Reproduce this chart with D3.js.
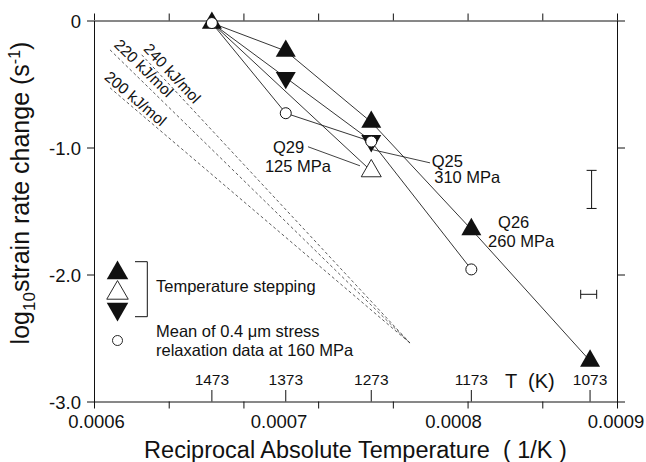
<!DOCTYPE html>
<html><head><meta charset="utf-8">
<script src="https://cdn.jsdelivr.net/npm/d3@7"></script>
<style>
body{margin:0;background:#fff;}
svg{display:block;font-family:"Liberation Sans",Arial,Helvetica,sans-serif;}
text{white-space:pre;fill:#111;}
</style></head><body>
<svg id="chart" width="646" height="462"></svg>
<script>
// ---------------- data ----------------
const temperatureTicks = [1473, 1373, 1273, 1173, 1073];
const q26Temps  = [1473, 1373, 1273, 1173, 1073];
const q26Values = [-0.02, -0.24, -0.80, -1.645, -2.68];
const q25Temps  = [1473, 1373, 1273];
const q25Values = [-0.02, -0.45, -0.948];
const q29Temps  = [1473, 1273];
const q29Values = [-0.02, -1.185];
const relaxTemps  = [1473, 1373, 1273, 1173];
const relaxValues = [-0.02, -0.73, -0.953, -1.96];
const energyLabels = ["200 kJ/mol", "220 kJ/mol", "240 kJ/mol"];
const energyStartX = [0.0006107, 0.0006107, 0.0006319];
const energyStartY = [-0.53, -0.231, -0.27];
const energyEndX = 0.0008115;
const energyEndY = -2.54;
const xTickLabels = ["0.0006", "0.0007", "0.0008", "0.0009"];
const xTickLabelValues = [0.0006, 0.0007, 0.0008, 0.0009];
const yTickValues = [0, -1, -2, -3];
const yTickLabels = ["0", "-1.0", "-2.0", "-3.0"];
const vErrX = 0.000933, vErrY = [-1.18, -1.48];
const hErrX = [0.0009257, 0.0009364], hErrY = -2.156;

// ---------------- scales ----------------
const svg = d3.select("#chart");
const x = d3.scaleLinear().domain([0.0006, 0.00095]).range([94, 617]);
const y = d3.scaleLinear().domain([-3, 0]).range([401.5, 20.5]);
// tick labels are printed at these (non-uniform) spots in the source figure
const xLabelPos = d3.scaleLinear().domain(xTickLabelValues).range([96.5, 279, 453.5, 616]);
const minorTicks = d3.range(0, 8).map(i => 0.0006 + i * 0.00005);
const ink = "#111";

// ---------------- axes ----------------
function styleAxis(g){
  g.selectAll("path,line").attr("stroke", ink).attr("stroke-width", 1);
  g.selectAll("text").remove();
}
svg.append("g").attr("transform", `translate(0,${y(-3)})`)
  .call(d3.axisBottom(x).tickValues(minorTicks).tickSize(7).tickSizeOuter(0)).call(styleAxis);
svg.append("g").attr("transform", `translate(0,${y(0)})`)
  .call(d3.axisTop(x).tickValues(minorTicks).tickSize(7).tickSizeOuter(0)).call(styleAxis);
svg.append("g").attr("transform", `translate(${x(0.0006)},0)`)
  .call(d3.axisLeft(y).tickValues(yTickValues).tickSize(7).tickSizeOuter(0)).call(styleAxis);
svg.append("g").attr("transform", `translate(${x(0.00095)},0)`)
  .call(d3.axisRight(y).tickValues(yTickValues).tickSize(8).tickSizeOuter(0)).call(styleAxis);

// y tick labels
svg.append("g").selectAll("text").data(yTickValues).join("text")
  .attr("x", 81).attr("y", d => y(d) + 7.5)
  .attr("text-anchor", "end").attr("font-size", 18.5)
  .text((d, i) => yTickLabels[i]);
// x tick labels
svg.append("g").selectAll("text").data(xTickLabelValues).join("text")
  .attr("x", d => xLabelPos(d)).attr("y", 428)
  .attr("text-anchor", "middle").attr("font-size", 18.5)
  .text((d, i) => xTickLabels[i]);

// temperature ticks (inside, along bottom axis)
const tg = svg.append("g");
tg.selectAll("line").data(temperatureTicks).join("line")
  .attr("x1", d => x(1 / d)).attr("x2", d => x(1 / d))
  .attr("y1", y(-3) - 11.5).attr("y2", y(-3))
  .attr("stroke", ink).attr("stroke-width", 1);
tg.selectAll("text").data(temperatureTicks).join("text")
  .attr("x", d => x(1 / d)).attr("y", y(-3) - 16.5)
  .attr("text-anchor", "middle").attr("font-size", 15.5)
  .text(d => d);
svg.append("text").attr("x", 505).attr("y", 388).attr("font-size", 20).text("T  (K)");

// axis titles
svg.append("text").attr("x", 355.5).attr("y", 458).attr("text-anchor", "middle")
  .attr("font-size", 23.5).text("Reciprocal Absolute Temperature  ( 1/K )");
const yt = svg.append("text").attr("transform", "translate(29,193) rotate(-90)")
  .attr("text-anchor", "middle").attr("font-size", 25);
yt.append("tspan").text("log");
yt.append("tspan").attr("font-size", 17).attr("dy", 6).text("10");
yt.append("tspan").attr("dy", -6).text("strain rate change (s");
yt.append("tspan").attr("font-size", 16).attr("dy", -9).text("-1");
yt.append("tspan").attr("dy", 9).text(")");

// ---------------- activation-energy dashed lines ----------------
const eg = svg.append("g");
energyLabels.forEach((lab, i) => {
  const x1 = x(energyStartX[i]), y1 = y(energyStartY[i]);
  const x2 = x(energyEndX), y2 = y(energyEndY);
  eg.append("line").attr("x1", x1).attr("y1", y1).attr("x2", x2).attr("y2", y2)
    .attr("stroke", "#333").attr("stroke-width", 0.8).attr("stroke-dasharray", "3,2.5");
  const ang = Math.atan2(y2 - y1, x2 - x1);
  const along = [-11, -0.5, -3][i], perp = [3, 5.2, 4.4][i];
  const tx = x1 + along * Math.cos(ang) + perp * Math.sin(ang);
  const ty = y1 + along * Math.sin(ang) - perp * Math.cos(ang);
  eg.append("text").attr("transform", `translate(${tx},${ty}) rotate(${ang * 180 / Math.PI})`)
    .attr("font-size", 15.5).text(lab);
});

// ---------------- series lines ----------------
const line = d3.line().x(d => x(1 / d[0])).y(d => y(d[1]));
const lg = svg.append("g").attr("fill", "none").attr("stroke", ink).attr("stroke-width", 0.85);
[[q26Temps, q26Values], [q25Temps, q25Values], [q29Temps, q29Values], [relaxTemps, relaxValues]]
  .forEach(([t, v]) => lg.append("path").attr("d", line(t.map((d, i) => [d, v[i]]))));

// annotation leaders
function leader(xa, ya, xb, yb){
  svg.append("line").attr("x1", x(xa)).attr("y1", y(ya)).attr("x2", x(xb)).attr("y2", y(yb))
    .attr("stroke", ink).attr("stroke-width", 0.8);
}
leader(0.0007432, -0.994, 0.000778, -1.144);
leader(0.0008249, -1.121, 0.0007867, -1.018);

// ---------------- markers ----------------
function tri(s, up){
  const h = s * Math.sqrt(3) / 2;
  return up ? `M0,${-2*h/3}L${s/2},${h/3}L${-s/2},${h/3}Z` : `M0,${2*h/3}L${s/2},${-h/3}L${-s/2},${-h/3}Z`;
}
const mg = svg.append("g");
mg.selectAll(".q29").data(q29Temps.slice(1)).join("path")
  .attr("transform", (d, i) => `translate(${x(1/d)},${y(q29Values[i+1])})`)
  .attr("d", tri(20, true)).attr("fill", "#fff").attr("stroke", ink).attr("stroke-width", 0.9);
mg.selectAll(".q26").data(q26Temps).join("path")
  .attr("transform", (d, i) => `translate(${x(1/d)},${y(q26Values[i])})`)
  .attr("d", tri(20, true)).attr("fill", ink);
mg.selectAll(".q25").data(q25Temps.slice(1)).join("path")
  .attr("transform", (d, i) => `translate(${x(1/d)},${y(q25Values[i+1])})`)
  .attr("d", tri(20, false)).attr("fill", ink);
mg.selectAll("circle").data(relaxTemps).join("circle")
  .attr("cx", d => x(1/d)).attr("cy", (d, i) => y(relaxValues[i])).attr("r", 5.5)
  .attr("fill", "#fff").attr("stroke", ink).attr("stroke-width", 1);

// annotation texts
function note(xv, yv, txt){
  svg.append("text").attr("x", x(xv)).attr("y", y(yv)).attr("font-size", 16.5).text(txt);
}
note(0.0007198, -1.042, "Q29");
note(0.0007144, -1.191, "125 MPa");
note(0.000826, -1.150, "Q25");
note(0.0008277, -1.280, "310 MPa");
note(0.0008704, -1.635, "Q26");
note(0.0008637, -1.780, "260 MPa");

// error bars
const eb = svg.append("g").attr("stroke", ink).attr("stroke-width", 1);
eb.append("line").attr("x1", x(vErrX)).attr("x2", x(vErrX)).attr("y1", y(vErrY[0])).attr("y2", y(vErrY[1]));
vErrY.forEach(v => eb.append("line").attr("x1", x(vErrX) - 5).attr("x2", x(vErrX) + 5).attr("y1", y(v)).attr("y2", y(v)));
eb.append("line").attr("x1", x(hErrX[0])).attr("x2", x(hErrX[1])).attr("y1", y(hErrY)).attr("y2", y(hErrY));
hErrX.forEach(v => eb.append("line").attr("x1", x(v)).attr("x2", x(v)).attr("y1", y(hErrY) - 4.5).attr("y2", y(hErrY) + 4.5));

// ---------------- legend ----------------
const leg = svg.append("g");
leg.append("path").attr("transform", "translate(117.5,273)").attr("d", tri(21.5, true)).attr("fill", ink);
leg.append("path").attr("transform", "translate(117.5,293)").attr("d", tri(21.5, true))
  .attr("fill", "#fff").attr("stroke", ink).attr("stroke-width", 0.9);
leg.append("path").attr("transform", "translate(117.5,309)").attr("d", tri(21.5, false)).attr("fill", ink);
leg.append("circle").attr("cx", 117.5).attr("cy", 340.5).attr("r", 5)
  .attr("fill", "#fff").attr("stroke", ink).attr("stroke-width", 0.9);
leg.append("path").attr("d", "M135,261.7H147.3V316.7H135").attr("fill", "none")
  .attr("stroke", ink).attr("stroke-width", 1);
leg.append("text").attr("x", 156).attr("y", 292).attr("font-size", 16.5).text("Temperature stepping");
leg.append("text").attr("x", 156).attr("y", 337).attr("font-size", 16.5).text("Mean of 0.4 \u03bcm stress");
leg.append("text").attr("x", 156).attr("y", 355.5).attr("font-size", 16.5).text("relaxation data at 160 MPa");
</script>
</body></html>
